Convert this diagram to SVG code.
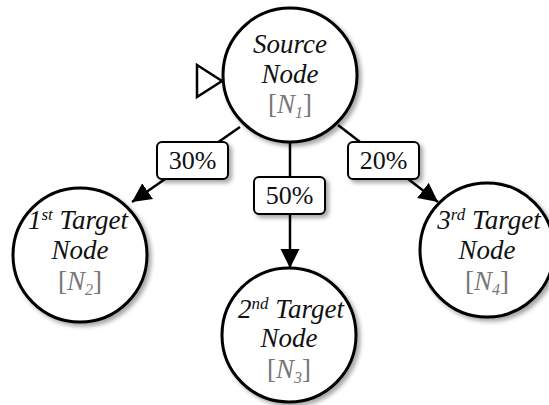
<svg xmlns="http://www.w3.org/2000/svg" width="549" height="405" viewBox="0 0 549 405">
  <defs>
    <filter id="shadow" x="-20%" y="-20%" width="150%" height="150%">
      <feDropShadow dx="3" dy="3" stdDeviation="2" flood-color="#000" flood-opacity="0.35"/>
    </filter>
    <marker id="arrow" markerUnits="userSpaceOnUse" markerWidth="20" markerHeight="20" refX="19" refY="10" orient="auto">
      <path d="M0,0.5 L19,10 L0,19.5 Z" fill="#000"/>
    </marker>
    <style>
      .node { fill: #fff; stroke: #000; stroke-width: 3; filter: url(#shadow); }
      .label { fill: #fff; stroke: #000; stroke-width: 2; filter: url(#shadow); }
      .edge { stroke: #000; stroke-width: 2.5; fill: none; }
      text { font-family: "Liberation Serif", "Times New Roman", serif; }
      .t { font-style: italic; font-size: 27px; fill: #111; text-anchor: middle; }
      .id { font-size: 27px; fill: #777; text-anchor: middle; }
      .id tspan.v { font-style: italic; }
      .pct { font-size: 26px; fill: #111; text-anchor: middle; }
      .sup { font-size: 17px; }
      .sub { font-size: 16px; font-style: italic; }
    </style>
  </defs>

  <!-- connectors -->
  <g id="edges">
    <line class="edge" x1="240" y1="127" x2="132" y2="202" marker-end="url(#arrow)"/>
    <line class="edge" x1="290" y1="142" x2="290" y2="268" marker-end="url(#arrow)"/>
    <line class="edge" x1="338" y1="125" x2="438" y2="202" marker-end="url(#arrow)"/>
  </g>

  <!-- edge labels -->
  <g id="label-30">
    <rect class="label" x="157" y="142" width="71" height="37" rx="5"/>
    <text class="pct" x="192.5" y="169">30%</text>
  </g>
  <g id="label-50">
    <rect class="label" x="254" y="177" width="71" height="37" rx="5"/>
    <text class="pct" x="289.5" y="204">50%</text>
  </g>
  <g id="label-20">
    <rect class="label" x="348" y="142" width="71" height="37" rx="5"/>
    <text class="pct" x="383.5" y="169">20%</text>
  </g>

  <!-- start marker -->
  <g id="start">
    <path d="M197,65 L222,81 L197,97 Z" fill="#fff" stroke="#000" stroke-width="2.5"/>
  </g>

  <!-- source node -->
  <g id="n1">
    <circle class="node" cx="290" cy="75" r="67"/>
    <text class="t" x="290" y="53">Source</text>
    <text class="t" x="290" y="83">Node</text>
    <text class="id" x="290" y="113">[<tspan class="v">N</tspan><tspan class="sub" dy="5">1</tspan><tspan dy="-5">]</tspan></text>
  </g>

  <!-- target nodes -->
  <g id="n2">
    <circle class="node" cx="80" cy="255" r="67"/>
    <text class="t" x="78" y="229">1<tspan class="sup" dy="-9">st</tspan><tspan dy="9"> Target</tspan></text>
    <text class="t" x="80" y="259">Node</text>
    <text class="id" x="80" y="290">[<tspan class="v">N</tspan><tspan class="sub" dy="5">2</tspan><tspan dy="-5">]</tspan></text>
  </g>

  <g id="n3">
    <circle class="node" cx="289" cy="335" r="67"/>
    <text class="t" x="291" y="318">2<tspan class="sup" dy="-9">nd</tspan><tspan dy="9"> Target</tspan></text>
    <text class="t" x="289" y="347">Node</text>
    <text class="id" x="289" y="378">[<tspan class="v">N</tspan><tspan class="sub" dy="5">3</tspan><tspan dy="-5">]</tspan></text>
  </g>

  <g id="n4">
    <circle class="node" cx="487" cy="250" r="67"/>
    <text class="t" x="489" y="229">3<tspan class="sup" dy="-9">rd</tspan><tspan dy="9"> Target</tspan></text>
    <text class="t" x="487" y="259">Node</text>
    <text class="id" x="487" y="290">[<tspan class="v">N</tspan><tspan class="sub" dy="5">4</tspan><tspan dy="-5">]</tspan></text>
  </g>
</svg>
